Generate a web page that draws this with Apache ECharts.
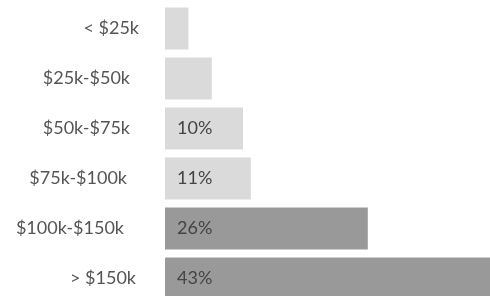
<!DOCTYPE html>
<html><head><meta charset="utf-8">
<script src="https://cdn.jsdelivr.net/npm/echarts@6/dist/echarts.min.js"></script>
<style>html,body{margin:0;padding:0;background:#fff}#c{width:490px;height:296px}</style>
</head><body><div id="c"></div>
<script>
const categories = ['< $25k', '$25k-$50k', '$50k-$75k', '$75k-$100k', '$100k-$150k', '> $150k'];
const values = [3, 6, 10, 11, 26, 43];
const showLabel = [false, false, true, true, true, true];
const barColors = ['#dadada', '#dadada', '#dadada', '#dadada', '#999999', '#999999'];
const labelShift = [1, 10, 10, 13, 16, 4];

const chart = echarts.init(document.getElementById('c'), null, {renderer: 'canvas'});
chart.setOption({
  animation: false,
  grid: {left: 165, top: 3.5, width: 390, height: 300, outerBoundsMode: 'none'},
  xAxis: {type: 'value', min: 0, max: 50, show: false},
  yAxis: {
    type: 'category', inverse: true,
    data: categories.map((c, i) => ({value: c, textStyle: {padding: [0, labelShift[i], 0, 0]}})),
    axisLine: {show: false}, axisTick: {show: false},
    axisLabel: {margin: 25, fontFamily: 'Lato', fontSize: 18, color: '#555'}
  },
  series: [{
    type: 'bar', barCategoryGap: '16%',
    data: values.map((v, i) => ({
      value: v,
      itemStyle: {color: barColors[i]},
      label: {show: showLabel[i]}
    })),
    label: {
      position: 'insideLeft', distance: 12,
      formatter: p => p.value + '%',
      fontFamily: 'Lato', fontSize: 18, color: '#444'
    }
  }]
});
</script></body></html>
